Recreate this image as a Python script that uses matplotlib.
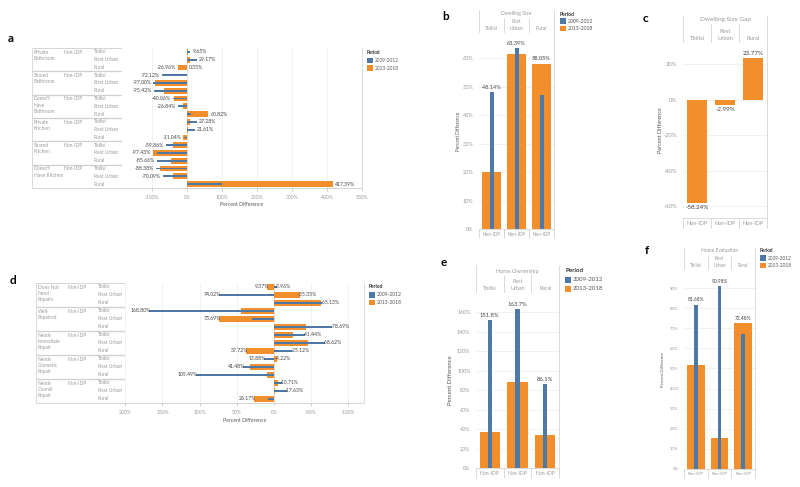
import numpy as np
import matplotlib
matplotlib.use('Agg')
import matplotlib.pyplot as plt
from matplotlib.patches import Rectangle

plt.rcParams['font.family'] = ['Lato', 'DejaVu Sans']

BLUE = '#4e79a7'
ORANGE = '#f28e2b'
GRID = '#ececec'
LINE = '#d4d4d4'
HEAD = '#9a9a9a'
VAL = '#444444'

W, H = 800, 487

# panel a: rows are 6 groups x 3 areas
a_groups = ["Private\nBathroom", "Shared\nBathroom", "Doesn't\nHave\nBathroom",
            "Private\nKitchen", "Shared\nKitchen", "Doesn't\nHave Kitchen"]
areas = ["Tbilisi", "Rest Urban", "Rural"]
a_blue = [9.65, 29.17, 0.35, -72.12, -97.00, -95.42, -40.06, -26.84, 10.0,
          27.28, 21.61, -7.6, -59.86, -87.0, -85.66, -88.38, -70.09, 99.0]
a_orange = [1.5, 7.0, -26.96, -1.0, -93.0, -67.0, -38.0, -11.0, 60.82,
            7.0, 3.0, -11.04, -40.0, -97.43, -46.0, -76.0, -40.0, 417.39]
a_ticks = [-100, 0, 100, 200, 300, 400, 500]

# panel d
d_groups = ["Does Not\nNeed\nRepairs", "Well-\nRepaired", "Needs\nImmediate\nRepair",
            "Needs\nCosmetic\nRepair", "Needs\nOverall\nRepair"]
d_blue = [-3.96, 74.02, -65.13, 168.80, 30.0, -78.69, -41.44, -68.62, -25.12,
          13.88, 41.48, 105.49, -10.71, -17.63, 7.7]
d_orange = [9.37, -35.35, -63.0, 44.6, 73.69, -44.0, -26.0, -46.0, 37.72,
            -4.22, 32.4, 9.0, -5.9, -1.8, 26.17]
d_ticks = [200, 150, 100, 50, 0, -50, -100]

# column panels
cols = ["Tbilisi", "Rest\nUrban", "Rural"]
b_blue = [48.14, 63.39, 47.0]
b_orange = [20.1, 61.6, 58.05]
c_orange = [-58.24, -2.99, 23.77]
e_blue = [151.8, 163.7, 86.1]
e_orange = [36.6, 88.3, 33.8]
f_blue = [81.68, 90.98, 67.1]
f_orange = [51.5, 15.3, 72.48]


def px(x0, y0, x1, y1):
    return [x0 / W, 1 - y1 / H, (x1 - x0) / W, (y1 - y0) / H]


fig = plt.figure(figsize=(8, 4.87), dpi=100)
ov = fig.add_axes([0, 0, 1, 1])
ov.set_xlim(0, W)
ov.set_ylim(H, 0)
ov.axis('off')


def hline(x0, x1, y, c=LINE, lw=0.6):
    ov.plot([x0, x1], [y, y], color=c, lw=lw, solid_capstyle='butt')


def vline(x, y0, y1, c=LINE, lw=0.6):
    ov.plot([x, x], [y0, y1], color=c, lw=lw, solid_capstyle='butt')


def legend(x, y, dy, fs=3.4, sq=5.5):
    ov.text(x, y, "Period", fontsize=fs, color='#333333', fontweight='bold', va='center')
    for i, (lab, col) in enumerate([("2009-2012", BLUE), ("2013-2018", ORANGE)]):
        yy = y + dy * (i + 1)
        ov.add_patch(Rectangle((x, yy - sq / 2), sq, sq, color=col, lw=0))
        ov.text(x + sq + 2, yy, lab, fontsize=fs, color='#555555', va='center')


def letter(x, y, s):
    ov.text(x, y, s, fontsize=8.5, fontweight='bold', va='center', ha='left')


def fmt(v, nd=2):
    return f"{v:.{nd}f}%"


def row_panel(box, groups, blue, orange, ticks, xlim, col_x, rows_top, rows_bot, n_sub,
              xlab_y, fs=3.5):
    x_left, x_plot, x_right = box
    n = len(blue)
    rh = (rows_bot - rows_top) / n
    ax = fig.add_axes(px(x_plot, rows_top, x_right, rows_bot))
    y = np.arange(n)
    for t in ticks:
        ax.axvline(t, color=GRID, lw=0.5, zorder=0)
    ax.axvline(0, color='#d8d8d8', lw=0.6, zorder=0)
    ax.barh(y, orange, height=0.75, color=ORANGE, zorder=2)
    ax.barh(y, blue, height=0.22, color=BLUE, zorder=3)
    ax.set_xlim(*xlim)
    ax.set_ylim(n - 0.5, -0.5)
    ax.set_yticks([])
    ax.set_xticks(ticks)
    ax.set_xticklabels([f"{t}%" for t in ticks])
    ax.tick_params(axis='x', length=2, width=0.5, color='#bbbbbb', labelsize=3.6,
                   labelcolor='#999999', pad=3)
    for s in ax.spines.values():
        s.set_visible(False)
    span = abs(xlim[1] - xlim[0])
    off = span * 0.008
    sign = 1 if xlim[1] > xlim[0] else -1
    for i in range(n):
        vals = [blue[i], orange[i]]
        pos = [v for v in vals if v > 0]
        neg = [v for v in vals if v < 0]
        if pos:
            v = max(pos)
            ax.text(v + sign * off, i, fmt(v), fontsize=3.7, color=VAL, va='center',
                    ha='left' if sign > 0 else 'right', zorder=4)
        if neg:
            v = min(neg)
            ax.text(v - sign * off, i, fmt(v), fontsize=3.7, color=VAL, va='center',
                    ha='right' if sign > 0 else 'left', zorder=4)
    # frame and group separators
    ngr = len(groups)
    for g in range(ngr + 1):
        yy = rows_top + g * n_sub * rh
        hline(x_left, x_right, yy, c='#cfcfcf', lw=0.9 if 0 < g < ngr else 0.6)
    vline(x_left, rows_top, rows_bot)
    vline(x_plot, rows_top, rows_bot)
    vline(x_right, rows_top, rows_bot)
    for g, name in enumerate(groups):
        yy = rows_top + g * n_sub * rh + 1.6
        ov.text(col_x[0], yy, name, fontsize=fs, color=HEAD, va='top', linespacing=1.35)
        ov.text(col_x[1], yy, "Non-IDP", fontsize=fs, color=HEAD, va='top')
        for k in range(n_sub):
            ov.text(col_x[2], rows_top + (g * n_sub + k + 0.5) * rh, areas[k],
                    fontsize=fs, color=HEAD, va='center')
    ov.text((x_plot + x_right) / 2, xlab_y, "Percent Difference", fontsize=3.7,
            color='#555555', ha='center', va='center')
    return ax


# ---- panel a
letter(8, 39, 'a')
row_panel((32, 122, 362), a_groups, a_blue, a_orange, a_ticks, (-186, 497),
          (34, 64, 94), 48, 188, 3, 204)
legend(367, 53, 7.6, fs=3.4)

# ---- panel d
letter(10, 281, 'd')
row_panel((36, 125, 364), d_groups, d_blue, d_orange, d_ticks, (200.5, -121.5),
          (38, 68, 98), 283, 403, 3, 420)
legend(369, 287, 7.8, fs=3.6)


def col_panel(x0, x1, top, title_y, head_bot, plot_bot, bot, blue, orange, ylim, ticks,
              title, ylab_x, nd=2, fs=3.6, tfs=4.0, vfs=3.8, lfs=3.3, titfs=3.7):
    ax = fig.add_axes(px(x0, head_bot, x1, plot_bot))
    x = np.arange(3)
    for t in ticks:
        ax.axhline(t, color=GRID, lw=0.5, zorder=0)
    ax.bar(x, orange, width=0.74, color=ORANGE, zorder=2)
    if blue is not None:
        ax.bar(x, blue, width=0.16, color=BLUE, zorder=3)
    ax.set_xlim(-0.5, 2.5)
    ax.set_ylim(*ylim)
    ax.set_xticks([])
    ax.set_yticks(ticks)
    ax.set_yticklabels([f"{t}%" for t in ticks])
    ax.tick_params(axis='y', length=0, labelsize=tfs, labelcolor='#999999', pad=4)
    for s in ax.spines.values():
        s.set_visible(False)
    off = (ylim[1] - ylim[0]) * 0.012
    for i in range(3):
        vals = [orange[i]] + ([blue[i]] if blue is not None else [])
        v = max(vals, key=abs)
        if v >= 0:
            ax.text(i, v + off, fmt(v, nd), fontsize=vfs, color=VAL, ha='center', va='bottom')
        else:
            ax.text(i, v - off, fmt(v, nd), fontsize=vfs, color=VAL, ha='center', va='top')
    cw = (x1 - x0) / 3
    # header lines
    vline(x0, top, bot)
    vline(x1, top, bot)
    for k in (1, 2):
        vline(x0 + k * cw, title_y + 4, bot)
    hline(x0, x1, head_bot)
    hline(x0, x1, plot_bot)
    ov.text((x0 + x1) / 2, title_y, title, fontsize=titfs, color=HEAD, ha='center', va='center')
    for k, name in enumerate(cols):
        ov.text(x0 + (k + 0.5) * cw, head_bot - 2, name, fontsize=fs, color=HEAD,
                ha='center', va='bottom', linespacing=1.6)
        ov.text(x0 + (k + 0.5) * cw, (plot_bot + bot) / 2 + 0.5, "Non-IDP", fontsize=fs - 0.3,
                color=HEAD, ha='center', va='center')
    ov.text(ylab_x, (head_bot + plot_bot) / 2, "Percent Difference", fontsize=lfs,
            color='#555555', rotation=90, ha='center', va='center')
    return ax


# ---- panel b
letter(442, 17, 'b')
col_panel(479, 554, 10, 14, 33, 229, 238, b_blue, b_orange, (0, 68.8),
          [0, 10, 20, 30, 40, 50, 60], "Dwelling Size", 458, vfs=4.1)
legend(560, 14, 7.2, fs=3.7)

# ---- panel c
letter(643, 18, 'c')
col_panel(683, 767, 15, 20, 43, 218, 228, None, c_orange, (-66.7, 32.1),
          [-60, -40, -20, 0, 20], "Dwelling Size Gap", 661, fs=4.2, tfs=4.2, vfs=4.5,
          lfs=4.0, titfs=4.6)

# ---- panel e
letter(441, 262, 'e')
col_panel(476, 559, 265, 271, 293, 468, 478, e_blue, e_orange, (0, 180),
          [0, 20, 40, 60, 80, 100, 120, 140, 160], "Home Ownership", 450, nd=1,
          fs=3.9, tfs=3.9, vfs=4.2, lfs=4.3, titfs=4.0)
legend(565, 270, 9.5, fs=4.4, sq=6)

# ---- panel f
letter(645, 250, 'f')
col_panel(684, 755, 247, 251, 270, 469, 478, f_blue, f_orange, (0, 99),
          [0, 10, 20, 30, 40, 50, 60, 70, 80, 90], "Home Evaluation", 663,
          fs=3.3, tfs=3.1, vfs=3.5, lfs=3.1, titfs=3.5)
legend(760, 251, 7.2, fs=3.4)

fig.savefig('out.png', dpi=100)
